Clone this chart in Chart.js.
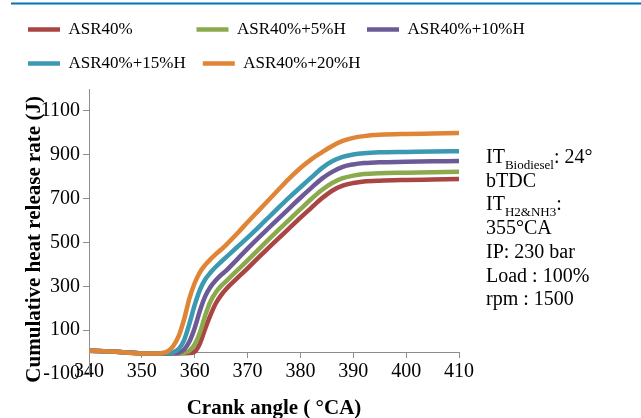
<!DOCTYPE html>
<html>
<head>
<meta charset="utf-8">
<script src="https://cdn.jsdelivr.net/npm/chart.js@4"></script>
<style>
  body { margin: 0; background: #fff; }
</style>
</head>
<body>
<canvas id="myChart" width="641" height="418"></canvas>
<script>
// Cumulative heat release vs crank angle

const crankAngle = [340, 345, 350, 353, 355, 356, 357, 358, 359, 360, 361, 362, 363, 364, 365, 366,
                    368, 370, 372, 374, 376, 378, 380, 382, 384, 386, 388, 390, 392, 395, 400, 405, 410];

const yASR40 =    [6, 1, -6, -7, -7, -7, -6, -5, -4, 2, 40, 108, 170, 223, 260, 289,
                   336, 382, 430, 476, 522, 568, 613, 657, 700, 736, 759, 771, 778, 782, 785, 787, 789];
const yASR40H5 =  [6, 1, -6, -7, -7, -6, -5, -3, 6, 35, 90, 168, 232, 273, 302, 325,
                   372, 418, 466, 514, 561, 607, 652, 697, 738, 771, 793, 805, 812, 816, 818, 820, 822];
const yASR40H10 = [6, 1, -6, -7, -6, -5, -2, 12, 48, 110, 190, 255, 298, 328, 352, 373,
                   422, 472, 520, 566, 612, 658, 704, 748, 790, 822, 845, 856, 862, 866, 868, 870, 872];
const yASR40H15 = [6, 1, -6, -7, -5, 0, 15, 55, 130, 215, 285, 332, 363, 389, 412, 434,
                   478, 522, 568, 615, 662, 708, 752, 795, 838, 870, 890, 901, 907, 911, 913, 915, 916];
const yASR40H20 = [6, 1, -6, -6, 5, 30, 75, 150, 245, 315, 365, 398, 424, 447, 468, 490,
                   540, 592, 643, 694, 745, 795, 840, 878, 910, 940, 963, 977, 985, 991, 995, 997, 999];

const seriesNames = ['ASR40%', 'ASR40%+5%H', 'ASR40%+10%H', 'ASR40%+15%H', 'ASR40%+20%H'];
const yTickValues = [-100, 100, 300, 500, 700, 900, 1100];

// operating conditions printed at the right of the plot
const noteLines = [
    [['IT', false], ['Biodiesel', true], [': 24°', false]],
    [['bTDC', false]],
    [['IT', false], ['H2&NH3', true], [':', false]],
    [['355°CA', false]],
    [['IP: 230 bar', false]],
    [['Load : 100%', false]],
    [['rpm : 1500', false]]
];

const serif = "'Liberation Serif', 'Times New Roman', serif";
const axisGrey = '#8c8c8c';
const legendTextWidth = 112.5;   // pad legend texts so the items line up in columns

Chart.defaults.font.family = serif;
Chart.defaults.color = '#000';

const figureExtras = {
    id: 'figureExtras',
    afterDraw(chart) {
        const ctx = chart.ctx;
        ctx.save();
        // blue rule across the top of the figure
        ctx.strokeStyle = '#0070C0';
        ctx.lineWidth = 2;
        ctx.beginPath();
        ctx.moveTo(11, 3.5);
        ctx.lineTo(641, 3.5);
        ctx.stroke();

        // notes
        ctx.fillStyle = '#000';
        ctx.textBaseline = 'alphabetic';
        let y = 163;
        noteLines.forEach(line => {
            let x = 486;
            line.forEach(([text, sub]) => {
                ctx.font = (sub ? '13px ' : '20px ') + serif;
                ctx.fillText(text, x, sub ? y + 6 : y);
                x += ctx.measureText(text).width;
            });
            y += 23.7;
        });
        ctx.restore();
    }
};

function makeDataset(label, values, color, order) {
    return {
        label: label,
        data: values,
        borderColor: color,
        backgroundColor: color,
        borderWidth: 4.5,
        borderCapStyle: 'round',
        pointRadius: 0,
        cubicInterpolationMode: 'monotone',
        order: order
    };
}

// blank axis used only as spacing
function spacerAxis(position, size) {
    return {
        position: position,
        display: true,
        ticks: { display: false },
        grid: { display: false },
        border: { display: false },
        afterFit: scale => {
            if (position === 'top') scale.height = size; else scale.width = size;
        }
    };
}

const ctx = document.getElementById('myChart');
const myChart = new Chart(ctx, {
    type: 'line',
    data: {
        labels: crankAngle,
        datasets: [
            makeDataset(seriesNames[0], yASR40, '#AA4543', 4),
            makeDataset(seriesNames[1], yASR40H5, '#8BAA4D', 3),
            makeDataset(seriesNames[2], yASR40H10, '#6C5A96', 2),
            makeDataset(seriesNames[3], yASR40H15, '#3C99B2', 1),
            makeDataset(seriesNames[4], yASR40H20, '#E08536', 0)
        ]
    },
    plugins: [figureExtras],
    options: {
        responsive: false,
        animation: false,
        layout: {
            padding: { top: 4, right: 0, bottom: 44, left: 11 }
        },
        scales: {
            x: {
                type: 'linear',
                min: 340,
                max: 410,
                position: { y: 0 },
                ticks: { stepSize: 10, padding: 3, font: { size: 20 }, color: '#000',
                         callback: v => String(v) },
                grid: { drawOnChartArea: false, drawTicks: true, tickLength: 5, color: axisGrey },
                border: { color: axisGrey, width: 1 },
                title: {
                    display: true,
                    text: 'Crank angle ( °CA)',
                    font: { size: 21, weight: 'bold' },
                    padding: { top: 9, bottom: 0 }
                }
            },
            y: {
                min: -100,
                max: 1200,
                afterBuildTicks: scale => {
                    scale.ticks = yTickValues.map(v => ({ value: v }));
                },
                afterFit: scale => { scale.width = 78; },
                ticks: { padding: 3, font: { size: 20 }, color: '#000',
                         callback: v => String(v) },
                grid: { drawOnChartArea: false, drawTicks: true, tickLength: 6, color: axisGrey },
                border: { color: axisGrey, width: 1 },
                title: {
                    display: true,
                    // trailing blanks push the rotated title a little lower, as in the figure
                    text: 'Cumulative heat release rate (J)   ',
                    font: { size: 21, weight: 'bold' },
                    padding: { top: 11, bottom: 0 }
                }
            },
            xGap: spacerAxis('top', 7),        // space between legend and plot
            yNotes: spacerAxis('right', 182)   // room on the right for the notes
        },
        plugins: {
            legend: {
                position: 'top',
                align: 'start',
                labels: {
                    usePointStyle: true,
                    pointStyle: 'line',
                    pointStyleWidth: 32,
                    padding: 17,
                    color: '#000',
                    font: { size: 17 },
                    sort: (a, b) => a.datasetIndex - b.datasetIndex,
                    generateLabels: chart => {
                        const items = Chart.defaults.plugins.legend.labels.generateLabels(chart);
                        const c = chart.ctx;
                        c.save();
                        c.font = '17px ' + serif;
                        const space = c.measureText(' ').width;
                        items.forEach(item => {
                            while (c.measureText(item.text).width + space / 2 < legendTextWidth) {
                                item.text += ' ';
                            }
                        });
                        c.restore();
                        return items;
                    }
                }
            },
            tooltip: { enabled: false }
        }
    }
});
</script>
</body>
</html>
